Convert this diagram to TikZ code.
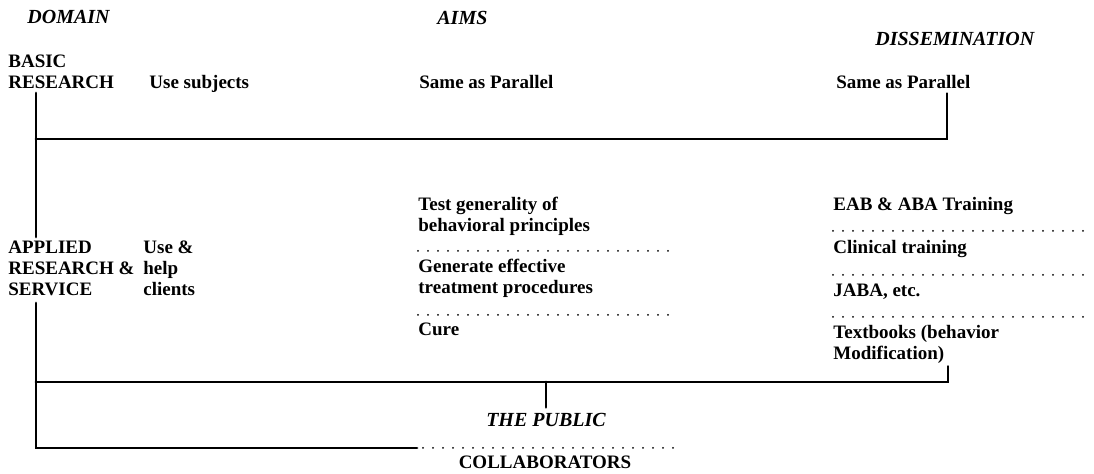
\documentclass[tikz,border=0pt]{standalone}
\usepackage{fontspec}
\setmainfont{Liberation Serif}
\usepackage{tikz}
\usetikzlibrary{positioning}

\tikzset{
	colhead/.style={inner sep=0pt, anchor=base west, font=\fontsize{10}{10.5}\selectfont\bfseries\itshape},
	celltext/.style={inner sep=0pt, anchor=base west, align=left, font=\fontsize{9.5}{10.5}\selectfont\bfseries},
	treeline/.style={line width=1.4pt, line cap=round, line join=miter},
	dotrule/.style={line width=1pt, line cap=round, dash pattern=on 0pt off 5pt},
}

\begin{document}
\begin{tikzpicture}[x=0.5pt, y=-0.5pt]

\useasboundingbox (0,0) rectangle (1094,474);

% Column heads
\node [colhead] (domain) at (27,24) {DOMAIN};
\node [colhead] (aims) at (437,25) {AIMS};
\node [colhead] (dissemination) at (875,46) {DISSEMINATION};

% Basic research
\node [celltext] (basic) at (8,89) {BASIC\\RESEARCH};
\node [celltext] (usesubj) at (149,89) {Use subjects};
\node [celltext] (basicaims) at (419,89) {Same as Parallel};
\node [celltext] (basicdiss) at (836,89) {Same as Parallel};

% Applied research & service
\node [celltext] (applied) at (8,296) {APPLIED\\RESEARCH \&\\SERVICE};
\node [celltext] (useclients) at (143,296) {Use \&\\help\\clients};

% Aims
\node [celltext] (aimtest) at (418,232) {Test generality of\\behavioral principles};
\node [celltext] (aimgen) at (418,294) {Generate effective\\treatment procedures};
\node [celltext] (aimcure) at (418,336) {Cure};

% Dissemination
\node [celltext] (disseab) at (833,211) {EAB \& ABA Training};
\node [celltext] (dissclin) at (833,254) {Clinical training};
\node [celltext] (dissjaba) at (833,297) {JABA, etc.};
\node [celltext] (disstext) at (833,360) {Textbooks (behavior\\Modification)};

% Audiences
\node [colhead, anchor=base] (public) at (546,427) {THE PUBLIC};
\node [celltext, anchor=base] (collab) at (545,469) {COLLABORATORS};

% Separators
\draw[dotrule] (418,251) -- (673,251);
\draw[dotrule] (418,315) -- (673,315);
\draw[dotrule] (833,231) -- (1090,231);
\draw[dotrule] (833,275) -- (1090,275);
\draw[dotrule] (833,317) -- (1090,317);

% Tree
\coordinate (btop) at (36,93);
\coordinate (bjoin) at (36,139);
\coordinate (bend) at (947,139);
\coordinate (bstop) at (36,237);
\coordinate (atop) at (36,303);
\coordinate (ajoin) at (36,382);
\coordinate (aend) at (948,382);
\coordinate (cjoin) at (36,448);
\coordinate (csolid) at (417,448);
\coordinate (cdots) at (423,448);
\coordinate (cend) at (675,448);

\draw[treeline] (btop) -- (bstop);
\draw[treeline] (bjoin) -- (bend) -- ([yshift=-2pt]bend |- basicdiss.south);
\draw[treeline] (atop) -- (cjoin) -- (csolid);
\draw[treeline] (ajoin) -- (aend) -- ([yshift=-1pt]aend |- disstext.south);
\draw[treeline] (ajoin -| public.north) -- ([yshift=3pt]public.north);
\draw[dotrule] (cdots) -- (cend);

\end{tikzpicture}
\end{document}
